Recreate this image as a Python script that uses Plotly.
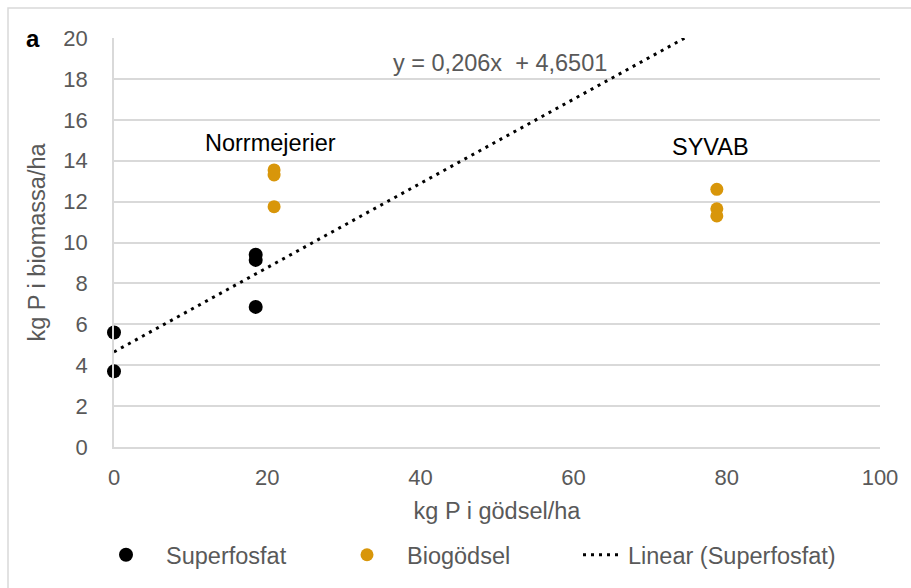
import plotly.graph_objects as go

# ---- data ----
superfosfat_x = [0, 0, 18.5, 18.5, 18.5]
superfosfat_y = [5.6, 3.7, 9.4, 9.15, 6.85]

biogodsel_x = [20.9, 20.9, 20.9, 78.7, 78.7, 78.7]
biogodsel_y = [13.55, 13.3, 11.75, 12.6, 11.65, 11.3]

trend_slope = 0.206
trend_intercept = 4.6501

x_ticks = [0, 20, 40, 60, 80, 100]
y_ticks = [0, 2, 4, 6, 8, 10, 12, 14, 16, 18, 20]

x_range = [0, 100]
y_range = [0, 20]

TEXT = "#595959"
GRID = "#d9d9d9"
ORANGE = "#D8960A"
FONT = "Liberation Sans, Arial, sans-serif"
FS = 23.5

trend_x = list(x_range)
trend_y = [trend_slope * v + trend_intercept for v in trend_x]

fig = go.Figure()
fig.add_trace(go.Scatter(
    x=superfosfat_x, y=superfosfat_y, mode="markers", name="Superfosfat",
    marker=dict(color="black", size=14), cliponaxis=False, legend="legend"))
fig.add_trace(go.Scatter(
    x=biogodsel_x, y=biogodsel_y, mode="markers", name="Biogödsel",
    marker=dict(color=ORANGE, size=13), cliponaxis=False, legend="legend2"))
fig.add_trace(go.Scatter(
    x=trend_x, y=trend_y, mode="lines", name="Linear (Superfosfat)",
    line=dict(color="black", width=3, dash="3px,5px"), legend="legend3"))

W, H = 911, 588
L, R, T, B = 114, 31, 38, 141
pw, ph = W - L - R, H - T - B

def px_x(p):
    return (p - L) / pw

def px_y(p):
    return (H - B - p) / ph

def leg(xpx, iw):
    return dict(orientation="h", x=px_x(xpx), xanchor="left",
                y=px_y(555), yanchor="middle", itemwidth=iw,
                font=dict(size=FS, color=TEXT), bgcolor="rgba(0,0,0,0)")

fig.update_layout(
    width=W, height=H,
    margin=dict(l=L, r=R, t=T, b=B, autoexpand=False),
    paper_bgcolor="white", plot_bgcolor="white",
    font=dict(family=FONT, size=22, color=TEXT),
    showlegend=True,
    legend=leg(86, 70),
    legend2=leg(327, 70),
    legend3=leg(578, 40),
    xaxis=dict(range=x_range, tickvals=x_ticks, showgrid=False,
               showline=True, linecolor=GRID, linewidth=1.5,
               zeroline=False, ticks="", ticklabelstandoff=10,
               tickfont=dict(size=22, color=TEXT),
               title=dict(text="kg P i gödsel/ha", font=dict(size=FS, color=TEXT), standoff=13)),
    yaxis=dict(range=y_range, tickvals=y_ticks, showgrid=True, gridcolor=GRID, gridwidth=1.5,
               showline=True, linecolor=GRID, linewidth=1.5,
               zeroline=False, ticks="", ticklabelstandoff=20,
               tickfont=dict(size=22, color=TEXT),
               title=dict(text="kg P i biomassa/ha", font=dict(size=FS, color=TEXT), standoff=11)),
    annotations=[
        dict(text="<b>a</b>", x=px_x(33), y=px_y(38), xref="paper", yref="paper",
             showarrow=False, font=dict(size=24, color="black"), xanchor="center", yanchor="middle"),
        dict(text="y = 0,206x\u00a0 + 4,6501", x=50.4, y=18.8, xref="x", yref="y",
             showarrow=False, font=dict(size=FS, color=TEXT), xanchor="center", yanchor="middle"),
        dict(text="Norrmejerier", x=20.4, y=14.87, xref="x", yref="y",
             showarrow=False, font=dict(size=FS, color="black"), xanchor="center", yanchor="middle"),
        dict(text="SYVAB", x=77.9, y=14.67, xref="x", yref="y",
             showarrow=False, font=dict(size=FS, color="black"), xanchor="center", yanchor="middle"),
    ],
    shapes=[dict(type="rect", xref="paper", yref="paper",
                 x0=px_x(8), x1=px_x(930), y0=px_y(610), y1=px_y(8),
                 line=dict(color=GRID, width=1.5), fillcolor="rgba(0,0,0,0)", layer="below")],
)

fig.write_html("out.html")
